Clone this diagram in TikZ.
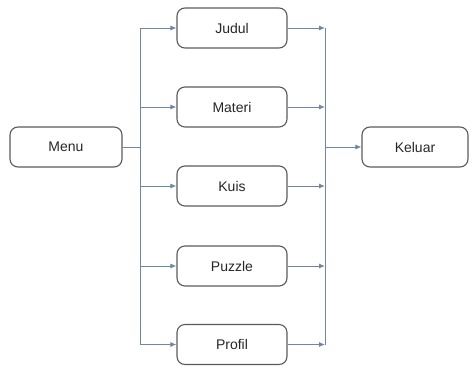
\documentclass[tikz,border=0pt]{standalone}
\usepackage{fontspec}
\setmainfont{Liberation Sans}
\usetikzlibrary{arrows.meta}
\definecolor{linecol}{HTML}{6F86A8}
\definecolor{boxcol}{HTML}{5A5A5A}
\tikzset{
  box/.style={draw=boxcol, line width=1.1pt, rounded corners=8pt, minimum width=110pt, minimum height=40pt, inner sep=0pt, font=\fontsize{14}{16}\selectfont, text=black!85},
  conn/.style={draw=linecol, line width=0.9pt},
  arr/.style={conn, -{Latex[length=6pt,width=5pt]}}
}
\begin{document}
\begin{tikzpicture}[x=1pt,y=-1pt]
\useasboundingbox (0,0) rectangle (469,365);
\node[box, minimum width=112pt] (menu) at (66,147) {Menu};
\node[box] (judul) at (232,28) {Judul};
\node[box] (materi) at (232,107) {Materi};
\node[box] (kuis) at (232,186) {Kuis};
\node[box] (puzzle) at (232,266) {Puzzle};
\node[box] (profil) at (232,344.5) {Profil};
\node[box, minimum width=106pt] (keluar) at (415,147) {Keluar};
\coordinate (lt) at (140,28);
\coordinate (lb) at (140,344.5);
\coordinate (lm) at (140,147);
\coordinate (rt) at (325,28);
\coordinate (rb) at (325,344.5);
\coordinate (rm) at (325,147);
\draw[conn] (menu.east) -- (lm);
\draw[conn] (lt) -- (lb);
\draw[conn] (rt) -- (rb);
\foreach \n in {judul,materi,kuis,puzzle,profil}{
  \draw[arr] (lt |- \n.west) -- (\n.west);
  \draw[arr] (\n.east) -- (rt |- \n.east);
}
\draw[arr] (rm) -- (keluar.west);
\end{tikzpicture}
\end{document}
